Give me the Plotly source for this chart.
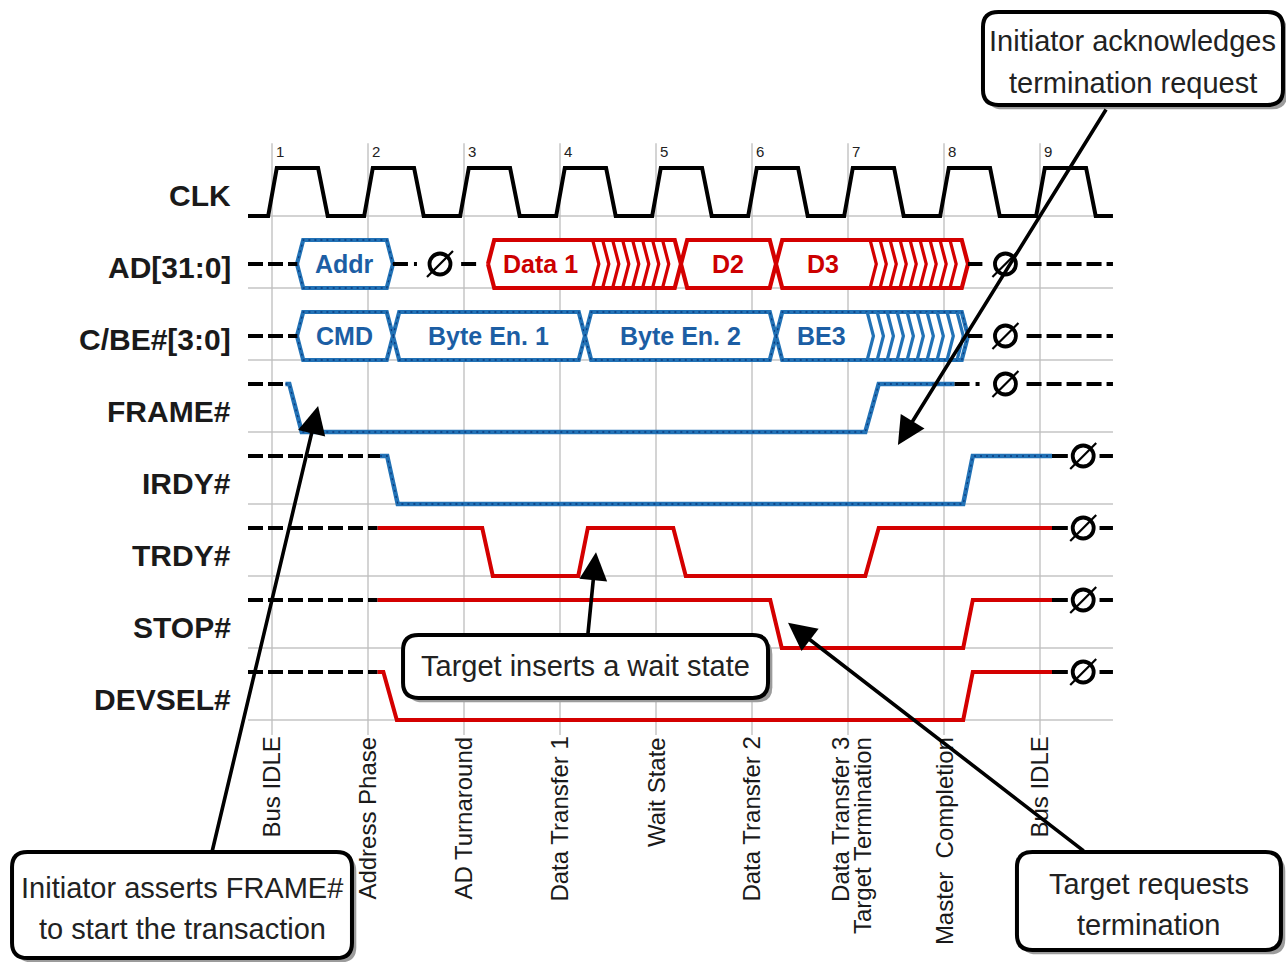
import plotly.graph_objects as go

# ---------------- data ----------------
signal_names = ["CLK", "AD[31:0]", "C/BE#[3:0]", "FRAME#", "IRDY#", "TRDY#", "STOP#", "DEVSEL#"]
clock_edges = [1, 2, 3, 4, 5, 6, 7, 8, 9]
clock_numbers = ["1", "2", "3", "4", "5", "6", "7", "8", "9"]
clk_fall = [1.53, 2.53, 3.53, 4.53, 5.53, 6.53, 7.53, 8.53, 9.53]

phase_labels = ["Bus IDLE", "Address Phase", "AD Turnaround", "Data Transfer 1", "Wait State",
                "Data Transfer 2", "Data Transfer 3", "Target Termination", "Master  Completion", "Bus IDLE"]
phase_x = [1, 2, 3, 4, 5, 6, 6.92, 7.15, 8, 9]

# bus rows: start, end, label, hatch start, colour
ad_start = [1.26, 3.25, 5.26, 6.25]
ad_end = [2.26, 5.26, 6.25, 8.25]
ad_labels = ["Addr", "Data 1", "D2", "D3"]
ad_hatch = [None, 4.34, None, 7.23]
ad_colors = ["blue", "red", "red", "red"]

cbe_start = [1.26, 2.26, 4.26, 6.25]
cbe_end = [2.26, 4.26, 6.25, 8.25]
cbe_labels = ["CMD", "Byte En. 1", "Byte En. 2", "BE3"]
cbe_hatch = [None, None, None, 7.20]
cbe_colors = ["blue", "blue", "blue", "blue"]

# control signals (time, level 1=high 0=low)
frame_t = [1.14, 1.18, 1.31, 7.18, 7.32, 8.11]
frame_v = [1, 1, 0, 0, 1, 1]
irdy_t = [2.125, 2.20, 2.31, 8.20, 8.30, 9.125]
irdy_v = [1, 1, 0, 0, 1, 1]
trdy_t = [2.10, 3.19, 3.30, 4.19, 4.29, 5.18, 5.31, 7.18, 7.32, 9.125]
trdy_v = [1, 1, 0, 0, 1, 1, 0, 0, 1, 1]
stop_t = [2.10, 6.19, 6.31, 8.20, 8.30, 9.125]
stop_v = [1, 1, 0, 0, 1, 1]
devsel_t = [2.10, 2.16, 2.30, 8.20, 8.30, 9.125]
devsel_v = [1, 1, 0, 0, 1, 1]

# turnaround symbols: row, time
turn_rows = [1, 1, 2, 3, 4, 5, 6, 7]
turn_t = [2.75, 8.64, 8.64, 8.64, 9.45, 9.45, 9.45, 9.45]

# callouts: text lines, box (x0, x1, y0, y1), arrow tail, arrow tip
callout_lines = [["Initiator acknowledges", "termination request"],
                 ["Initiator asserts FRAME#", "to start the transaction"],
                 ["Target inserts a wait state"],
                 ["Target requests", "termination"]]
callout_box = [(8.406, 11.531, 8.542, 9.833),
               (-1.708, 1.833, -3.306, -1.833),
               (2.365, 6.167, 0.306, 1.181),
               (8.76, 11.51, -3.194, -1.833)]
callout_tail = [(9.698, 8.50), (0.375, -1.833), (4.29, 1.181), (9.47, -1.833)]
callout_tip = [(7.52, 3.82), (1.48, 4.36), (4.375, 2.33), (6.375, 1.35)]

# ---------------- style ----------------
FONT = "Liberation Sans, Arial, sans-serif"
BLUE = "#2272b6"
BLUE_DOT = "#0a3a7c"
RED = "#d40000"
COLORS = {"blue": BLUE, "red": RED}
TEXT_COLORS = {"blue": "#1c5ea4", "red": "#cc0000"}
H = 0.667
X0, X1 = 0.75, 9.76
LINE_GAP = 0.29  # half distance between callout text lines (y units)

def low(i):
    return 7 - i

fig = go.Figure()

def add_line(xs, ys, color, width=4, dash="solid"):
    fig.add_trace(go.Scatter(x=xs, y=ys, mode="lines", hoverinfo="skip",
                             line=dict(color=color, width=width, dash=dash, shape="linear")))

def add_blue(xs, ys):
    add_line(xs, ys, BLUE, 4.5)
    add_line(xs, ys, BLUE_DOT, 1.3, "2px,4px")

# grid
for i in range(8):
    add_line([X0, X1], [low(i), low(i)], "#c4c4c4", 1.4)
for e in clock_edges:
    add_line([e, e], [8.01, -0.21], "#bdbdbd", 1.3)

# clock
cx, cy = [X0], [low(0)]
for r, f in zip(clock_edges, clk_fall):
    cx += [r - 0.04, r + 0.05, f - 0.05, f + 0.05]
    cy += [low(0), low(0) + H, low(0) + H, low(0)]
cx.append(X1)
cy.append(low(0))
add_line(cx, cy, "black", 4)

DASH = "15px,5px"
DASHDOT = "15px,6px,4px,6px"

# buses
def draw_bus(row, starts, ends, labels, hatches, colors):
    lo = low(row)
    hi = lo + H
    c = lo + H / 2
    d = 0.065
    for s, e, lab, hs, col in zip(starts, ends, labels, hatches, colors):
        xs = [s, s + d, e - d, e, e - d, s + d, s]
        ys = [c, hi, hi, c, lo, lo, c]
        fig.add_trace(go.Scatter(x=xs, y=ys, mode="lines", fill="toself", fillcolor="white",
                                 hoverinfo="skip", line=dict(color=COLORS[col], width=4.2)))
        if col == "blue":
            add_line(xs, ys, BLUE_DOT, 1.3, "2px,4px")
        tx = (s + e) / 2
        if hs is not None:
            tx = (s + hs) / 2
            hx, hy = [], []
            k = hs
            while k < e - d - 0.03:
                hx += [k, k + d, k, None]
                hy += [hi, c, lo, None]
                k += 0.104
            add_line(hx, hy, COLORS[col], 3.2)
        fig.add_annotation(x=tx, y=c, text="<b>%s</b>" % lab, showarrow=False,
                           font=dict(family=FONT, size=25, color=TEXT_COLORS[col]))

draw_bus(1, ad_start, ad_end, ad_labels, ad_hatch, ad_colors)
draw_bus(2, cbe_start, cbe_end, cbe_labels, cbe_hatch, cbe_colors)

# bus idle parts
ad_c = low(1) + H / 2
cbe_c = low(2) + H / 2
add_line([X0, ad_start[0]], [ad_c, ad_c], "black", 4, DASH)
add_line([ad_end[0], turn_t[0] - 0.24], [ad_c, ad_c], "black", 4, DASHDOT)
add_line([turn_t[0] + 0.22, ad_start[1] - 0.1], [ad_c, ad_c], "black", 4, DASH)
add_line([ad_end[-1], turn_t[1] - 0.24], [ad_c, ad_c], "black", 4, DASH)
add_line([turn_t[1] + 0.22, X1], [ad_c, ad_c], "black", 4, DASH)
add_line([X0, cbe_start[0]], [cbe_c, cbe_c], "black", 4, DASH)
add_line([cbe_end[-1], turn_t[2] - 0.24], [cbe_c, cbe_c], "black", 4, DASH)
add_line([turn_t[2] + 0.22, X1], [cbe_c, cbe_c], "black", 4, DASH)

# control signals
ctrl = [(3, frame_t, frame_v, "blue"), (4, irdy_t, irdy_v, "blue"), (5, trdy_t, trdy_v, "red"),
        (6, stop_t, stop_v, "red"), (7, devsel_t, devsel_v, "red")]
for row, ts, vs, col in ctrl:
    lo = low(row)
    ys = [lo + H * v for v in vs]
    add_line([X0, ts[0]], [lo + H, lo + H], "black", 4, DASH)
    if col == "blue":
        add_blue(ts, ys)
    else:
        add_line(ts, ys, RED, 4)
    tt = turn_t[turn_rows.index(row)]
    if row == 3:
        add_line([ts[-1], tt - 0.22], [lo + H, lo + H], "black", 4, DASHDOT)
        add_line([tt + 0.22, X1], [lo + H, lo + H], "black", 4, DASH)
    else:
        add_line([ts[-1], tt - 0.16], [lo + H, lo + H], "black", 4)
        add_line([tt + 0.17, X1], [lo + H, lo + H], "black", 4)

# turnaround symbols
sy = []
for r in turn_rows:
    sy.append(low(r) + H / 2 if r in (1, 2) else low(r) + H)
fig.add_trace(go.Scatter(x=turn_t, y=sy, mode="markers", hoverinfo="skip",
                         marker=dict(symbol="circle-open", size=21, color="black",
                                     line=dict(color="black", width=3.8))))
fig.add_trace(go.Scatter(x=turn_t, y=sy, mode="markers", hoverinfo="skip",
                         marker=dict(symbol="line-ne-open", size=26, color="black",
                                     line=dict(color="black", width=2.2))))

# signal labels
for i, name in enumerate(signal_names):
    fig.add_annotation(x=0.594, y=low(i) + 0.278, text="<b>%s</b>" % name, showarrow=False,
                       xanchor="right", yanchor="middle",
                       font=dict(family=FONT, size=30, color="#1a1a1a"))

# clock numbers
for e, n in zip(clock_edges, clock_numbers):
    fig.add_annotation(x=e + 0.025, y=7.89, text=n, showarrow=False, xanchor="left",
                       yanchor="middle", font=dict(family=FONT, size=15, color="#222"))

# phase labels
for x, lab in zip(phase_x, phase_labels):
    fig.add_annotation(x=x, y=-0.21, text=lab, showarrow=False, textangle=-90,
                       xanchor="center", yanchor="top",
                       font=dict(family=FONT, size=24, color="#1a1a1a"))

# callouts
def rrect(x0, x1, y0, y1, rx=0.16, ry=0.21):
    return ("M %f,%f L %f,%f Q %f,%f %f,%f L %f,%f Q %f,%f %f,%f L %f,%f Q %f,%f %f,%f "
            "L %f,%f Q %f,%f %f,%f Z" % (
                x0 + rx, y1, x1 - rx, y1, x1, y1, x1, y1 - ry, x1, y0 + ry, x1, y0, x1 - rx, y0,
                x0 + rx, y0, x0, y0, x0, y0 + ry, x0, y1 - ry, x0, y1, x0 + rx, y1))

for lines, (bx0, bx1, by0, by1), (ax, ay), (tx, ty) in zip(callout_lines, callout_box,
                                                            callout_tail, callout_tip):
    fig.add_annotation(x=tx, y=ty, ax=ax, ay=ay, xref="x", yref="y", axref="x", ayref="y",
                       text="", showarrow=True, arrowhead=2, arrowsize=1.55, arrowwidth=3.6,
                       arrowcolor="black", standoff=0, startstandoff=0)
    fig.add_shape(type="path", path=rrect(bx0 + 0.045, bx1 + 0.045, by0 - 0.06, by1 - 0.06),
                  fillcolor="#9c9c9c", line=dict(width=0), layer="above")
    fig.add_shape(type="path", path=rrect(bx0, bx1, by0, by1), fillcolor="white",
                  line=dict(color="black", width=4), layer="above")
    n = len(lines)
    cyc = (by0 + by1) / 2 - (0.05 if n > 1 else 0)
    for j, ln in enumerate(lines):
        yy = cyc + LINE_GAP * (n - 1 - 2 * j)
        fig.add_annotation(x=(bx0 + bx1) / 2, y=yy, text=ln, showarrow=False,
                           xanchor="center", yanchor="middle",
                           font=dict(family=FONT, size=29, color="#222"))

fig.update_layout(width=1286, height=962, margin=dict(l=0, r=0, t=0, b=0),
                  paper_bgcolor="white", plot_bgcolor="white", showlegend=False,
                  xaxis=dict(range=[-1.8333, 11.5625], visible=False, fixedrange=True),
                  yaxis=dict(range=[-3.3611, 10], visible=False, fixedrange=True))

fig.write_html("out.html", config={"displayModeBar": False},
               post_script="document.body.style.margin='0';")
